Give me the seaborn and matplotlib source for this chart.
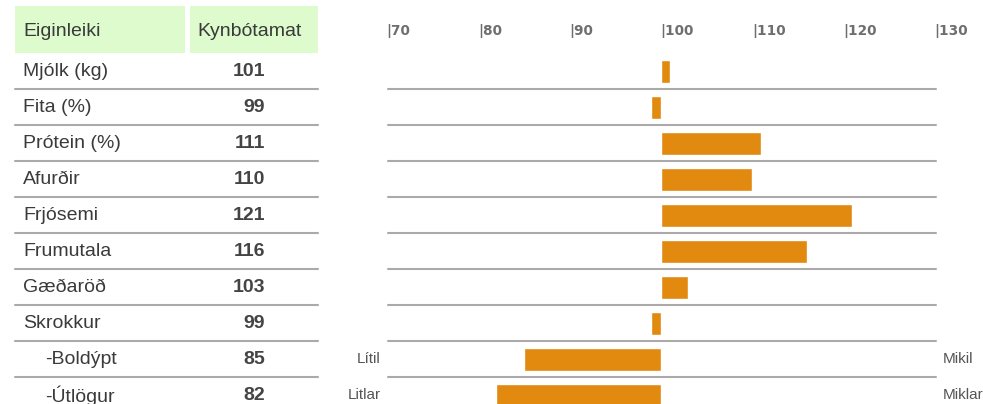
import numpy as np
import pandas as pd
import matplotlib
matplotlib.use('Agg')
import matplotlib.pyplot as plt
import seaborn as sns
from matplotlib.patches import Rectangle
from matplotlib.transforms import blended_transform_factory

# gögn
eiginleikar = ['Mjólk (kg)', 'Fita (%)', 'Prótein (%)', 'Afurðir', 'Frjósemi',
               'Frumutala', 'Gæðaröð', 'Skrokkur', '-Boldýpt', '-Útlögur']
kynbotamat = [101, 99, 111, 110, 121, 116, 103, 99, 85, 82]
tick_values = [70, 80, 90, 100, 110, 120, 130]
vinstri_merki = ['', '', '', '', '', '', '', '', 'Lítil', 'Litlar']
haegri_merki = ['', '', '', '', '', '', '', '', 'Mikil', 'Miklar']

BASE = 100
W, H = 983, 404

sns.set_style('white')
plt.rcParams['font.family'] = ['Liberation Sans', 'DejaVu Sans']

df = pd.DataFrame({'Eiginleiki': eiginleikar, 'Kynbotamat': kynbotamat})
df['Frávik'] = df['Kynbotamat'] - BASE

fig = plt.figure(figsize=(W / 100, H / 100), dpi=100)

# ás fyrir súlurnar (pixlar: x ~387-935, röð 0 miðja í 71.5, bil 36)
top_px = 53.5
bot_px = top_px + 36 * len(eiginleikar)
ax = fig.add_axes([386.5 / W, 1 - bot_px / H, 548 / W, (bot_px - top_px) / H])

sns.barplot(data=df, x='Frávik', y='Eiginleiki', orient='h', color='#E2890F',
            saturation=1, width=0.64, ax=ax, zorder=3)
ax.set_xlim(70 - BASE, 130 - BASE)
ax.set_ylim(len(eiginleikar) - 0.5, -0.5)
for s in ax.spines.values():
    s.set_visible(False)
ax.set_xlabel('')
ax.set_ylabel('')
ax.set_yticks([])
ax.xaxis.tick_top()
ax.set_xticks([t - BASE for t in tick_values])
ax.set_xticklabels([f'|{t}' for t in tick_values], fontfamily='DejaVu Sans',
                   fontweight='bold', fontsize=9.8, color='#6E6E6E')
for lbl in ax.get_xticklabels():
    lbl.set_ha('left')
ax.tick_params(axis='x', length=0, pad=11)

# línur milli raða
trans = blended_transform_factory(fig.transFigure, ax.transData)
for i in range(len(eiginleikar) - 1):
    y = i + 0.5
    ax.plot([15 / W, 318 / W], [y, y], transform=trans, color='#AAAAAA',
            lw=1.5, clip_on=False, zorder=1)
    ax.plot([388 / W, 936 / W], [y, y], transform=trans, color='#AAAAAA',
            lw=1.5, clip_on=False, zorder=1)

# haus töflu
for x0, x1 in [(15, 185), (190, 318)]:
    fig.add_artist(Rectangle((x0 / W, 1 - 53 / H), (x1 - x0) / W, 47 / H,
                             transform=fig.transFigure, color='#DDFBCD', lw=0))
fig.text(23 / W, 1 - 32 / H, 'Eiginleiki', fontsize=14, color='#3A3A3A',
         ha='left', va='center')
fig.text(250 / W, 1 - 32 / H, 'Kynbótamat', fontsize=14, color='#3A3A3A',
         ha='center', va='center')

# tafla
for i, (nafn, gildi) in enumerate(zip(eiginleikar, kynbotamat)):
    x_nafn = 45 if nafn.startswith('-') else 23
    ax.text(x_nafn / W, i, nafn, transform=trans, fontsize=14, color='#3A3A3A',
            ha='left', va='center')
    ax.text(265 / W, i, str(gildi), transform=trans, fontsize=14, color='#444444',
            fontweight='bold', ha='right', va='center')
    if vinstri_merki[i]:
        ax.text(381 / W, i, vinstri_merki[i], transform=trans, fontsize=11,
                color='#555555', ha='right', va='center')
    if haegri_merki[i]:
        ax.text(943 / W, i, haegri_merki[i], transform=trans, fontsize=11,
                color='#555555', ha='left', va='center')

fig.savefig('out.png', dpi=100)
